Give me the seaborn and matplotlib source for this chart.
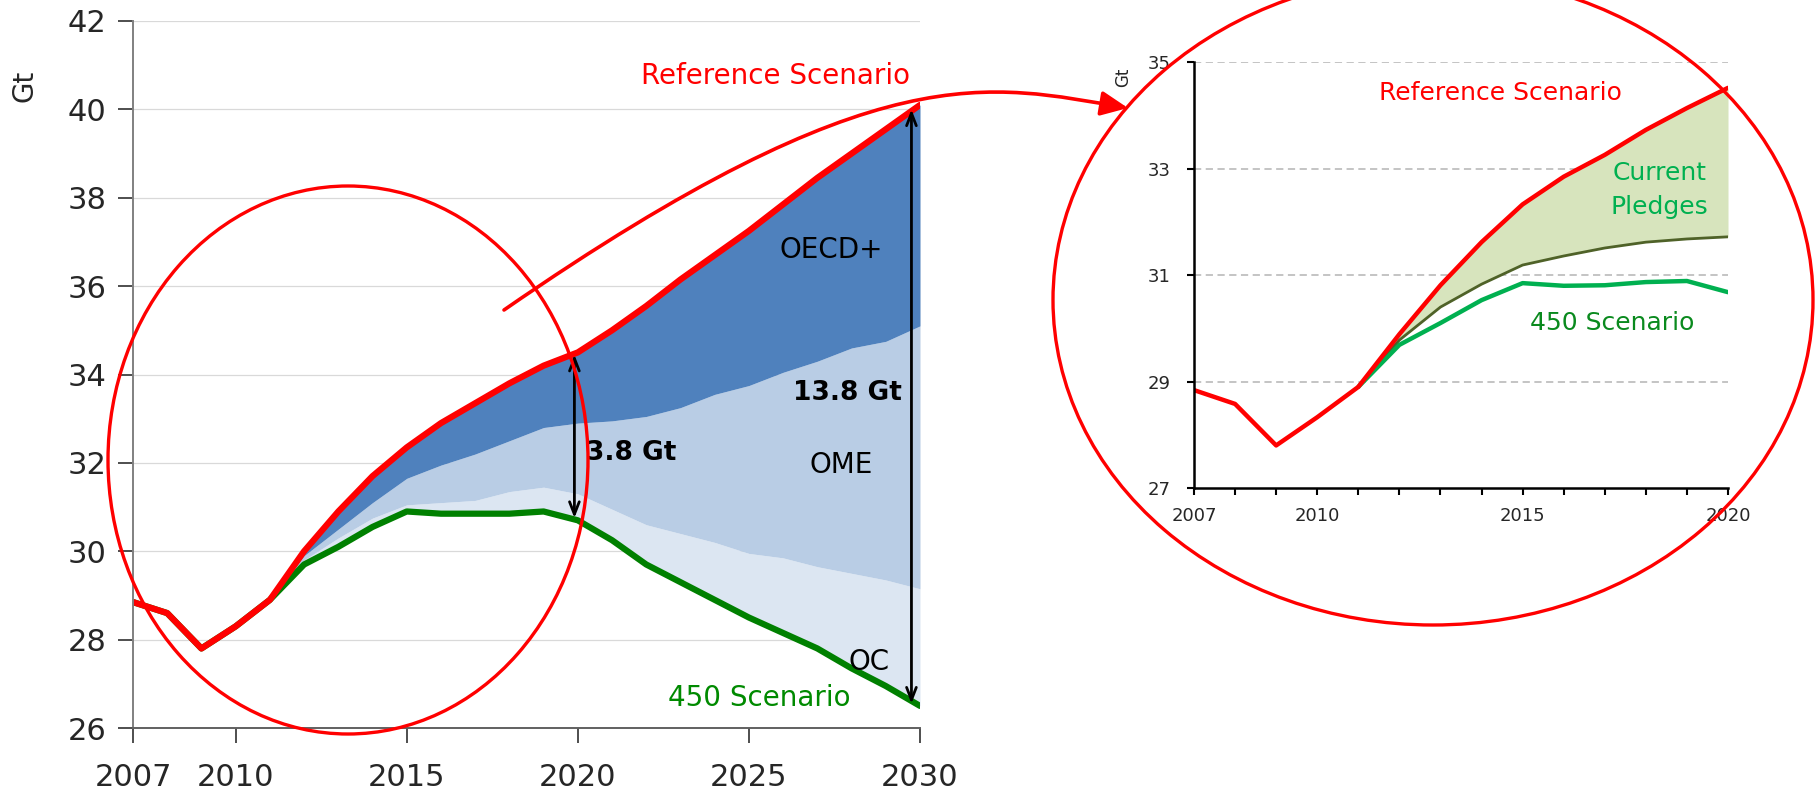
import matplotlib
matplotlib.use("Agg")
import matplotlib.pyplot as plt
import seaborn as sns
from matplotlib.patches import Ellipse, FancyArrowPatch
from matplotlib.path import Path

sns.set_style("white")
plt.rcParams['font.family'] = ['DejaVu Sans']

# left chart: CO2 emissions by scenario, 2007-2030
years_left = list(range(2007, 2031))
ref_left = [28.85, 28.6, 27.8, 28.3, 28.9, 30.0, 30.9, 31.7, 32.35, 32.9, 33.35, 33.8,
            34.2, 34.5, 35.0, 35.55, 36.15, 36.7, 37.25, 37.85, 38.45, 39.0, 39.55, 40.1]
ome_top = [28.85, 28.6, 27.8, 28.3, 28.9, 29.9, 30.5, 31.1, 31.65, 31.95, 32.2, 32.5,
           32.8, 32.9, 32.95, 33.05, 33.25, 33.55, 33.75, 34.05, 34.3, 34.6, 34.75, 35.1]
oc_top = [28.85, 28.6, 27.8, 28.3, 28.9, 29.8, 30.3, 30.75, 31.05, 31.1, 31.15, 31.35,
          31.45, 31.3, 30.95, 30.6, 30.4, 30.2, 29.95, 29.85, 29.65, 29.5, 29.35, 29.15]
s450_left = [28.85, 28.6, 27.8, 28.3, 28.9, 29.7, 30.1, 30.55, 30.9, 30.85, 30.85, 30.85,
             30.9, 30.7, 30.25, 29.7, 29.3, 28.9, 28.5, 28.15, 27.8, 27.35, 26.95, 26.5]
left_xticks = [2007, 2010, 2015, 2020, 2025, 2030]
left_yticks = [26, 28, 30, 32, 34, 36, 38, 40, 42]

# right chart: zoom on 2007-2020
years_right = list(range(2007, 2021))
ref_right = [28.84, 28.58, 27.8, 28.33, 28.9, 29.89, 30.81, 31.62, 32.33, 32.85, 33.26, 33.73, 34.14, 34.52]
pledges = [28.84, 28.58, 27.8, 28.33, 28.9, 29.78, 30.4, 30.83, 31.19, 31.36, 31.51, 31.62, 31.68, 31.72]
s450_right = [28.84, 28.58, 27.8, 28.33, 28.9, 29.69, 30.1, 30.53, 30.85, 30.8, 30.81, 30.87, 30.89, 30.68]
right_yticks = [27, 29, 31, 33, 35]
right_xlabels = {2007: "2007", 2010: "2010", 2015: "2015", 2020: "2020"}

fig = plt.figure(figsize=(18.2, 7.98), dpi=100)

# ---- left chart
ax = fig.add_axes([133 / 1820, 1 - 728 / 798, 787 / 1820, 707 / 798])
ax.fill_between(years_left, s450_left, oc_top, color='#dce6f2', lw=0)
ax.fill_between(years_left, oc_top, ome_top, color='#b9cde5', lw=0)
ax.fill_between(years_left, ome_top, ref_left, color='#4f81bd', lw=0)
sns.lineplot(x=years_left, y=s450_left, ax=ax, color='#008000', lw=4.5)
sns.lineplot(x=years_left, y=ref_left, ax=ax, color='#ff0000', lw=4.5)
ax.set_xlim(2007, 2030)
ax.set_ylim(26, 42)
ax.set_xticks(left_xticks)
ax.set_yticks(left_yticks)
ax.grid(axis='y', color='#d9d9d9', lw=0.9)
ax.set_axisbelow(True)
for s in ['top', 'right']:
    ax.spines[s].set_visible(False)
ax.spines['left'].set_color('#808080')
ax.spines['bottom'].set_color('#606060')
ax.spines['left'].set_linewidth(1.4)
ax.spines['bottom'].set_linewidth(1.4)
ax.tick_params(axis='y', direction='out', length=11, width=1.3, color='#404040',
               labelsize=22, pad=8, left=True)
ax.tick_params(axis='x', direction='out', length=11, width=1.3, color='#404040',
               labelsize=22, pad=14, bottom=True)

ax.text(2029.7, 40.75, "Reference Scenario", color='#ff0000', fontsize=20, ha='right', va='center')
ax.text(2027.4, 36.82, "OECD+", color='black', fontsize=20, ha='center', va='center')
ax.text(2027.7, 31.96, "OME", color='black', fontsize=20, ha='center', va='center')
ax.text(2028.5, 27.49, "OC", color='black', fontsize=20, ha='center', va='center')
ax.text(2025.3, 26.68, "450 Scenario", color='#008a00', fontsize=20, ha='center', va='center')
ax.text(2026.3, 33.58, "13.8 Gt", color='black', fontsize=19, fontweight='bold', ha='left', va='center')
ax.text(2020.25, 32.22, "3.8 Gt", color='black', fontsize=19, fontweight='bold', ha='left', va='center')
arrow_kw = dict(arrowstyle='<->,head_length=0.9,head_width=0.35', color='black', lw=2,
                shrinkA=0, shrinkB=0)
ax.annotate("", xy=(2019.9, 30.75), xytext=(2019.9, 34.45), arrowprops=arrow_kw)
ax.annotate("", xy=(2029.75, 26.55), xytext=(2029.75, 40.0), arrowprops=arrow_kw)

# ---- right chart
ax2 = fig.add_axes([1194 / 1820, 1 - 488 / 798, 534 / 1820, 425.7 / 798])
ax2.fill_between(years_right[4:], pledges[4:], ref_right[4:], color='#d7e4bd', lw=0)
sns.lineplot(x=years_right[4:], y=pledges[4:], ax=ax2, color='#4f6228', lw=2)
sns.lineplot(x=years_right[4:], y=s450_right[4:], ax=ax2, color='#00b050', lw=3.2)
sns.lineplot(x=years_right, y=ref_right, ax=ax2, color='#ff0000', lw=3.2)
ax2.set_xlim(2007, 2020)
ax2.set_ylim(27, 35)
ax2.set_yticks(right_yticks)
ax2.set_xticks(years_right)
ax2.set_xticklabels([right_xlabels.get(y, "") for y in years_right])
for v in right_yticks[1:]:
    ax2.axhline(v, color='#bfbfbf', lw=1.3, ls=(0, (4, 2.5)), zorder=0)
for s in ['top', 'right']:
    ax2.spines[s].set_visible(False)
for s in ['left', 'bottom']:
    ax2.spines[s].set_color('black')
    ax2.spines[s].set_linewidth(1.8)
ax2.tick_params(axis='both', direction='out', length=5, width=1.5, color='black',
                labelsize=13, left=True, bottom=True)
ax2.tick_params(axis='y', pad=12)
ax2.tick_params(axis='x', pad=9)
ax2.text(2014.47, 34.42, "Reference Scenario", color='#ff0000', fontsize=18, ha='center', va='center')
ax2.text(2018.34, 32.6, "Current\nPledges", color='#00b050', fontsize=18, ha='center', va='center',
         linespacing=1.5)
ax2.text(2017.17, 30.1, "450 Scenario", color='#0a8a1e', fontsize=18, ha='center', va='center')

# ---- overlay in figure pixels: ellipses, arrow, units
ov = fig.add_axes([0, 0, 1, 1], zorder=10)
ov.set_xlim(0, 1820)
ov.set_ylim(798, 0)
ov.axis('off')
ov.patch.set_alpha(0)
ov.add_patch(Ellipse((348, 460), 480, 548, fill=False, ec='#ff0000', lw=2.4))
ov.add_patch(Ellipse((1433, 300), 760, 650, fill=False, ec='#ff0000', lw=2.4))
curve = Path([(504, 310), (880, 50), (990, 85), (1128, 108)],
             [Path.MOVETO, Path.CURVE4, Path.CURVE4, Path.CURVE4])
ov.add_patch(FancyArrowPatch(path=curve, arrowstyle='-|>,head_length=0.55,head_width=0.25',
                             mutation_scale=30, color='#ff0000', lw=2.6))
ov.text(24, 86, "Gt", fontsize=20, rotation=90, ha='center', va='center')
ov.text(1123, 77, "Gt", fontsize=12, rotation=90, ha='center', va='center')

fig.savefig("out.png", dpi=100)
